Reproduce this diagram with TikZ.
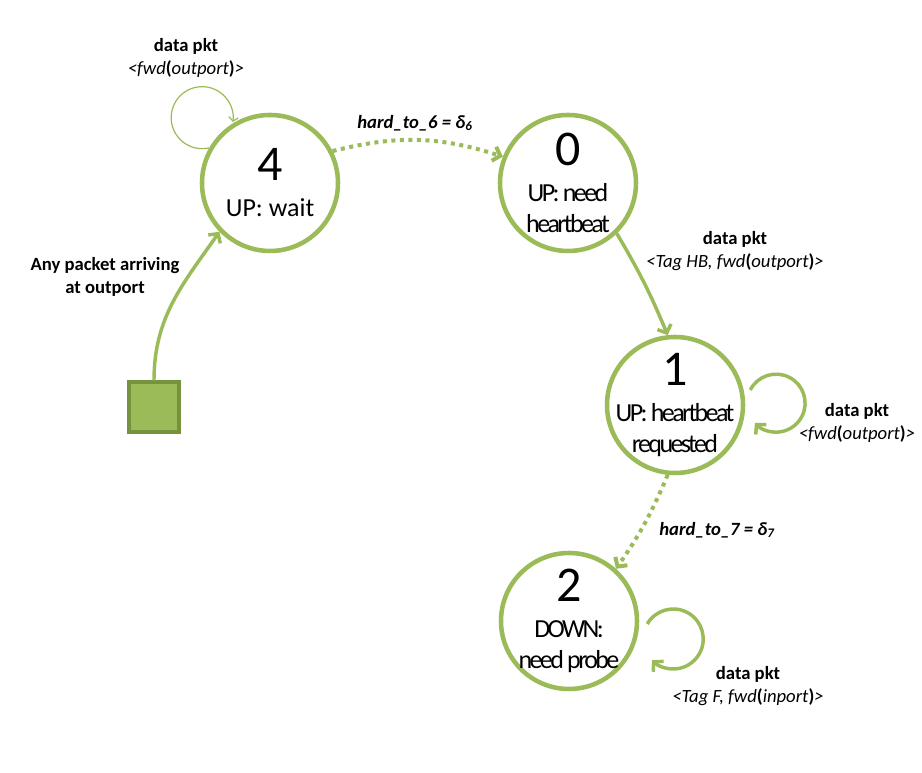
\documentclass[tikz,border=0pt]{standalone}
\usepackage{fontspec}
\setmainfont{Carlito}
\newfontfamily\tightfont[LetterSpace=-10]{Carlito}
\usetikzlibrary{arrows.meta}
\definecolor{olive}{HTML}{9BBB59}
\definecolor{darkolive}{HTML}{76923C}

\begin{document}
\begin{tikzpicture}[x=0.75pt, y=0.75pt,
  state/.style={draw=olive, line width=3.4pt, circle, minimum size=102pt, inner sep=-16pt, align=center, font=\fontsize{19.5}{23}\selectfont},
  lbl/.style={align=center, font=\fontsize{14}{17}\selectfont},
  trans/.style={draw=olive, line width=2.6pt, -{Straight Barb[length=5pt,width=11pt]}},
  timeout/.style={trans, line width=3pt, dash pattern=on 3pt off 3.4pt},
  thinloop/.style={draw=olive, line width=0.9pt, -{Straight Barb[length=3pt,width=7pt]}}]
\useasboundingbox (0,0) rectangle (922,773);
\node[state] (S4) at (270,590) {{\fontsize{37.5}{40}\selectfont 4}\\[4pt] UP: wait};
\node[state] (S0) at (568,590) {{\fontsize{37.5}{40}\selectfont 0}\\[4pt] \tightfont UP: need\\ \tightfont heartbeat};
\node[state] (S1) at (675,368) {{\fontsize{37.5}{40}\selectfont 1}\\[4pt] \tightfont UP: heartbeat\\ \tightfont requested};
\node[state] (S2) at (569,152) {{\fontsize{37.5}{40}\selectfont 2}\\[4pt] \tightfont DOWN:\\ \tightfont need probe};
\node[draw=darkolive, fill=olive, line width=3pt, minimum size=37pt, inner sep=0pt] (P) at (154,366) {};
\node[lbl, font=\fontsize{14}{17}\selectfont\bfseries] (LP) at (105,496) {Any packet arriving\\at outport};
\node[lbl] (L4) at (186,715) {\textbf{data pkt}\\ \textit{<fwd}\textbf{(}\textit{outport}\textbf{)}\textit{>}};
\node[lbl] (L40) at (415,650) {\textbf{\textit{hard\_to\_6 = δ\textsubscript{6}}}};
\node[lbl] (L01) at (735,522) {\textbf{data pkt}\\ \textit{<Tag HB, fwd}\textbf{(}\textit{outport}\textbf{)}\textit{>}};
\node[lbl] (L1) at (857,350) {\textbf{data pkt}\\ \textit{<fwd}\textbf{(}\textit{outport}\textbf{)}\textit{>}};
\node[lbl] (L12) at (717,243) {\textbf{\textit{hard\_to\_7 = δ\textsubscript{7}}}};
\node[lbl] (L2) at (748,87) {\textbf{data pkt}\\ \textit{<Tag F, fwd}\textbf{(}\textit{inport}\textbf{)}\textit{>}};
\draw[trans] (P.north) to[out=90, in=235] (S4.224);
\draw[timeout] (S4.27) to[bend left=16] (S0.158);
\draw[trans] (S0.-46) to[bend left=4] (S1.96);
\draw[timeout] (S1.-96) to[bend left=6] (S2.48);
\draw[thinloop] (S4.150) arc[start angle=283, end angle=-8, radius=31];
\draw[trans] ([shift={(5,15)}]S1.east) arc[start angle=153, end angle=-137, radius=29];
\draw[trans] ([shift={(8,-3)}]S2.east) arc[start angle=150, end angle=-135, radius=30];
\end{tikzpicture}
\end{document}
